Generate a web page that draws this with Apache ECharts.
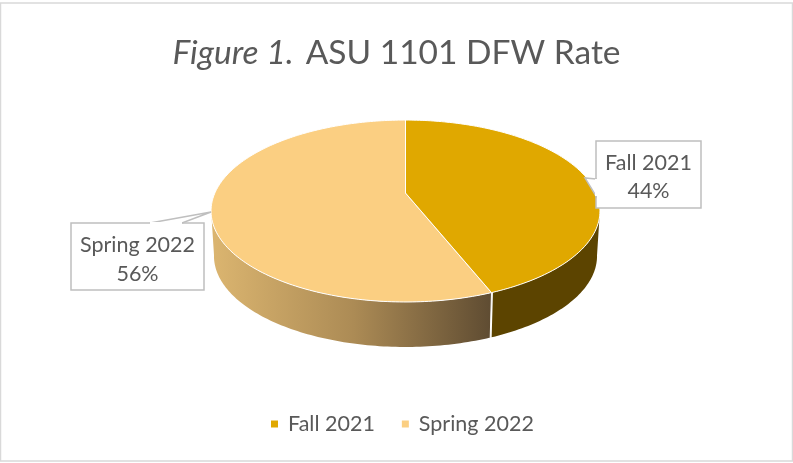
<!DOCTYPE html>
<html>
<head>
<meta charset="utf-8">
<script src="https://cdn.jsdelivr.net/npm/echarts@6/dist/echarts.min.js"></script>
<style>
html, body { margin: 0; padding: 0; background: #fff; }
#chart { width: 793px; height: 463px; }
</style>
</head>
<body>
<div id="chart"></div>
<script>
var categories = ["Fall 2021", "Spring 2022"];
var shares = [44, 56];
var topColors = ["#e0a800", "#fbcf82"];

var myChart = echarts.init(document.getElementById("chart"));

// pie is a tilted disc, the near side looks bigger so the centre sits above the middle
var pie = { x: 405.5, y: 193, a: 190.6, b: 87.4, q: 0.198, depth: 45, shrink: 0.985 };
var font = '21.5px Lato, "Noto Sans", sans-serif';
var gray = "#595959";
var total = shares[0] + shares[1];

// callout boxes: rect + outline with pointer
var callouts = [
    { box: [596, 141, 105, 67], pointer: [[596, 179], [585, 178], [596, 196]], text: [648.5, 163, 191] },
    { box: [71, 223, 133, 67], pointer: [[150, 223], [211, 212], [182, 223]], text: [137.5, 245, 274] }
];

function rimPoint(deg) {
    var r = deg * Math.PI / 180;
    var u = Math.sin(r), v = -Math.cos(r);
    var d = 1 - pie.q * v;
    return [pie.x + pie.a * u / d, pie.y + pie.b * v / d, v];
}

function lower(p) {
    return [pie.x + (p[0] - pie.x) * pie.shrink, p[1] + pie.depth];
}

function renderSlice(params, api) {
    var i = params.seriesIndex;
    var start = 0;
    for (var k = 0; k < i; k++) {
        start += shares[k] / total * 360;
    }
    var end = start + api.value(0) / total * 360;

    var top = [[pie.x, pie.y]];
    var upper = [], bottom = [];
    for (var deg = start; deg <= end + 0.001; deg += 1) {
        var p = rimPoint(deg);
        top.push([p[0], p[1]]);
        // only the near side of the wall can be seen
        if (p[2] >= pie.q - 0.02) {
            upper.push([p[0], p[1]]);
            bottom.unshift(lower(p));
        }
    }
    var last = rimPoint(end);
    top.push([last[0], last[1]]);

    var wallFill = "#5c4400";
    if (i == 1) {
        wallFill = new echarts.graphic.LinearGradient(216, 0, 491, 0, [
            { offset: 0, color: "#dab46f" },
            { offset: 0.5, color: "#ac8b55" },
            { offset: 1, color: "#5f4c32" }
        ], true);
    }

    var c = callouts[i];
    var box = c.box;
    var children = [
        {
            type: "polygon",
            shape: { points: upper.concat(bottom) },
            style: { fill: wallFill, stroke: null }
        },
        {
            type: "polygon",
            shape: { points: top },
            style: { fill: topColors[i], stroke: "#fff", lineWidth: 1, lineJoin: "round" }
        },
        {
            type: "rect",
            shape: { x: box[0], y: box[1], width: box[2], height: box[3] },
            style: { fill: "#fff", stroke: "#bfbfbf", lineWidth: 1.5 },
            z2: 5
        },
        {
            type: "polygon",
            shape: { points: c.pointer },
            style: { fill: "#fff", stroke: "#bfbfbf", lineWidth: 1.5 },
            z2: 6
        },
        {
            type: "line",
            shape: { x1: c.pointer[0][0], y1: c.pointer[0][1], x2: c.pointer[2][0], y2: c.pointer[2][1] },
            style: { stroke: "#fff", lineWidth: 2 },
            z2: 7
        },
        {
            type: "text",
            style: { text: categories[i], x: c.text[0], y: c.text[1], fill: gray, font: font, align: "center", verticalAlign: "middle" },
            z2: 8
        },
        {
            type: "text",
            style: { text: Math.round(api.value(0) / total * 100) + "%", x: c.text[0], y: c.text[2], fill: gray, font: font, align: "center", verticalAlign: "middle" },
            z2: 8
        }
    ];
    if (i == 1) {
        // white seam where the two walls meet
        var s0 = rimPoint(start);
        var s1 = lower(s0);
        children.push({
            type: "line",
            shape: { x1: s0[0], y1: s0[1], x2: s1[0], y2: s1[1] },
            style: { stroke: "#fff", lineWidth: 1 },
            z2: 2
        });
    }
    return { type: "group", children: children };
}

var option = {
    animation: false,
    backgroundColor: "#fff",
    title: {
        left: "center",
        top: 31,
        text: "{i|Figure 1.} {n|ASU 1101 DFW Rate}",
        textStyle: {
            rich: {
                i: { fontFamily: "Lato", fontSize: 33.5, fontStyle: "italic", fontWeight: "normal", color: gray, padding: [0, 7, 0, 0] },
                n: { fontFamily: "Lato", fontSize: 33.5, fontWeight: "normal", color: gray }
            }
        }
    },
    legend: {
        data: categories,
        left: 266,
        top: 408,
        icon: "rect",
        itemWidth: 7,
        itemHeight: 7,
        itemGap: 27,
        selectedMode: false,
        textStyle: { fontFamily: "Lato", fontSize: 21.5, color: gray, padding: [0, 0, 0, 5] }
    },
    graphic: [{
        type: "rect",
        silent: true,
        shape: { x: 0.5, y: 3, width: 792, height: 458 },
        style: { fill: null, stroke: "#d9d9d9", lineWidth: 1.5 }
    }],
    series: [
        {
            type: "custom",
            name: categories[0],
            coordinateSystem: "none",
            silent: true,
            z: 3,
            itemStyle: { color: topColors[0] },
            renderItem: renderSlice,
            data: [[shares[0]]]
        },
        {
            type: "custom",
            name: categories[1],
            coordinateSystem: "none",
            silent: true,
            z: 2,
            itemStyle: { color: topColors[1] },
            renderItem: renderSlice,
            data: [[shares[1]]]
        }
    ]
};
myChart.setOption(option);
</script>
</body>
</html>
